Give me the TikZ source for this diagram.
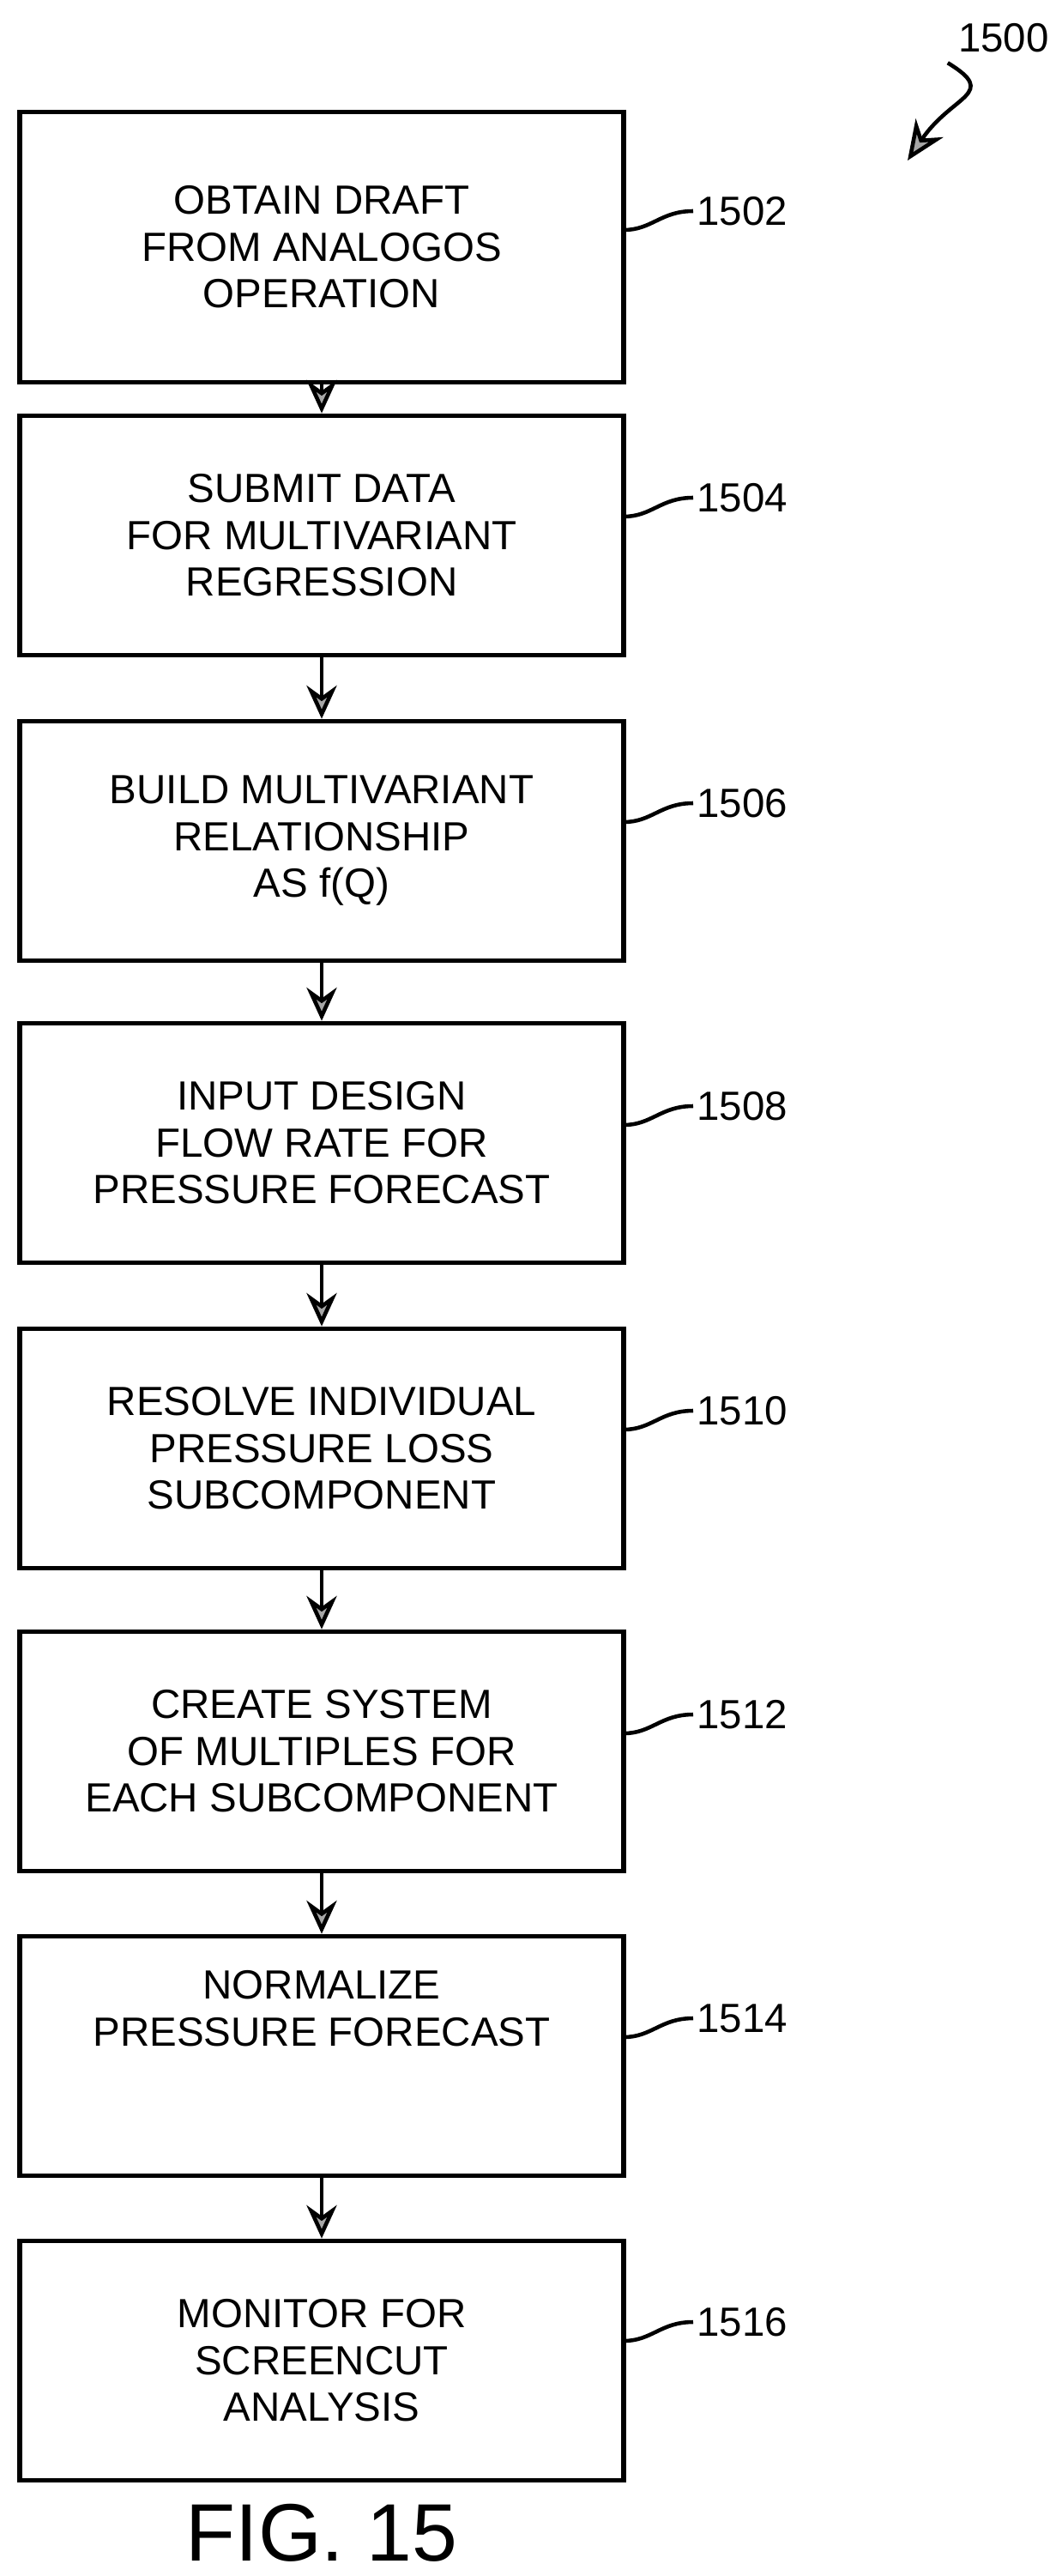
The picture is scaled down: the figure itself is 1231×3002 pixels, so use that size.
\documentclass[tikz,border=0pt]{standalone}
\usepackage{fontspec}
\setmainfont{Liberation Sans}
\usetikzlibrary{arrows.meta}
\begin{document}
\begin{tikzpicture}[x=0.01cm,y=-0.01cm,
  box/.style={draw,line width=1.6pt,minimum width=7.04cm,minimum height=2.79cm,align=center,font=\fontsize{13.5}{15.5}\selectfont,inner sep=0},
  lab/.style={font=\fontsize{13.5}{15.5}\selectfont,anchor=west,inner sep=1pt},
  arr/.style={line width=1.3pt,-{Stealth[length=11pt,width=10pt,fill=gray!70]}},
  lead/.style={line width=1.3pt}]
\useasboundingbox (0,0) rectangle (1231,3002);
\node[box,minimum height=3.15cm] (b1) at (375,288) {OBTAIN DRAFT\\FROM ANALOGOS\\OPERATION};
\node[box] (b2) at (375,624) {SUBMIT DATA\\FOR MULTIVARIANT\\REGRESSION};
\node[box] (b3) at (375,980) {BUILD MULTIVARIANT\\RELATIONSHIP\\AS f(Q)};
\node[box] (b4) at (375,1332) {INPUT DESIGN\\FLOW RATE FOR\\PRESSURE FORECAST};
\node[box] (b5) at (375,1688) {RESOLVE INDIVIDUAL\\PRESSURE LOSS\\SUBCOMPONENT};
\node[box] (b6) at (375,2041) {CREATE SYSTEM\\OF MULTIPLES FOR\\EACH SUBCOMPONENT};
\node[box] (b7) at (375,2396) {NORMALIZE\\PRESSURE FORECAST\\[1.2em]};
\node[box] (b8) at (375,2751) {MONITOR FOR\\SCREENCUT\\ANALYSIS};
\foreach \a/\b in {b1/b2,b2/b3,b3/b4,b4/b5,b5/b6,b6/b7,b7/b8}
  \draw[arr] (\a.south) -- (\b.north);
\foreach \b/\t/\y in {b1/1502/246,b2/1504/580,b3/1506/936,b4/1508/1289,b5/1510/1644,b6/1512/1998,b7/1514/2352,b8/1516/2706}{
  \node[lab] (l\t) at (808,\y) {\t};
  \draw[lead] (727,\y+22) .. controls (760,\y+22) and (770,\y) .. (l\t.west);
}
\node[font=\fontsize{13.5}{15.5}\selectfont] (l1500) at (1170,44) {1500};
\coordinate (t1500) at (1058,187);
\draw[line width=1.3pt,-{Stealth[length=13pt,width=11pt,fill=gray!70]}] (l1500.south west) .. controls (1165,110) and (1110,110) .. (t1500);
\node[font=\fontsize{27}{30}\selectfont] (fig) at (375,2952) {FIG. 15};
\end{tikzpicture}
\end{document}
